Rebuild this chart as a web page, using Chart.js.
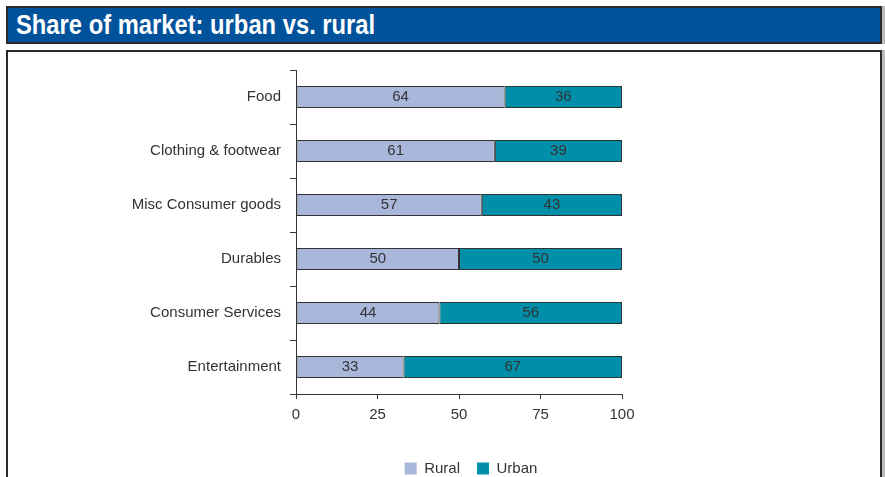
<!DOCTYPE html>
<html>
<head>
<meta charset="utf-8">
<script src="https://cdn.jsdelivr.net/npm/chart.js@4/dist/chart.umd.min.js"></script>
<style>
  html, body { margin: 0; padding: 0; background: #fff; }
  body { width: 885px; height: 477px; position: relative; overflow: hidden; }
  #title {
    position: absolute; left: 6px; top: 6px; width: 864px; height: 34px;
    background: #00529B; border: 2px solid #2a2a2a;
    box-shadow: 3px 0 0 #bbb;
    padding-left: 8px;
  }
  #title span {
    display: inline-block; transform: scaleX(0.88); transform-origin: left center;
    color: #fff; font-family: "Liberation Sans", Arial, sans-serif;
    font-weight: bold; font-size: 27px; line-height: 34px; white-space: nowrap;
  }
  #frame {
    position: absolute; left: 6px; top: 50px; width: 872px; height: 440px;
    border: 2px solid #2a2a2a; box-shadow: 3px 0 0 #bbb; background: #fff;
  }
  #wrap { position: absolute; left: 8px; top: 52px; width: 872px; height: 425px; }
</style>
</head>
<body>
<div id="title"><span>Share of market: urban vs. rural</span></div>
<div id="frame"></div>
<div id="wrap"><canvas id="c"></canvas></div>
<script>
const categories = ["Food", "Clothing & footwear", "Misc Consumer goods", "Durables", "Consumer Services", "Entertainment"];
const rural = [64, 61, 57, 50, 44, 33];
const urban = [36, 39, 43, 50, 56, 67];
const xTicks = [0, 25, 50, 75, 100];

const textColor = "#333";
const fontFamily = "'Liberation Sans', Arial, sans-serif";
const fontSize = 15;

// Writes each segment's value in the middle of its bar
const barValueLabels = {
  id: "barValueLabels",
  afterDatasetsDraw(chart) {
    const ctx = chart.ctx;
    ctx.save();
    ctx.fillStyle = textColor;
    ctx.font = fontSize + "px " + fontFamily;
    ctx.textAlign = "center";
    ctx.textBaseline = "middle";
    chart.data.datasets.forEach((ds, i) => {
      chart.getDatasetMeta(i).data.forEach((bar, j) => {
        const cx = (bar.x + bar.base) / 2;
        ctx.fillText(String(ds.data[j]), cx, bar.y);
      });
    });
    ctx.restore();
  }
};

// Centres the legend under the whole frame rather than the plot area
const legendPlacement = {
  id: "legendPlacement",
  afterLayout(chart) {
    const lg = chart.legend;
    const h = lg.bottom - lg.top;
    lg.left = 54;
    lg.right = chart.width;
    lg.top = 392;
    lg.bottom = lg.top + h;
  }
};

new Chart(document.getElementById("c"), {
  type: "bar",
  data: {
    labels: categories,
    datasets: [
      { label: "Rural", data: rural, backgroundColor: "#A9B7DB", borderColor: "#333", borderWidth: 1, borderSkipped: false, barPercentage: 0.41, categoryPercentage: 1 },
      { label: "Urban", data: urban, backgroundColor: "#008FA8", borderColor: "#333", borderWidth: 1, borderSkipped: false, barPercentage: 0.41, categoryPercentage: 1 }
    ]
  },
  options: {
    indexAxis: "y",
    responsive: true,
    maintainAspectRatio: false,
    animation: false,
    layout: { padding: { left: 0, right: 258, top: 9, bottom: 0 } },
    scales: {
      x: {
        stacked: true, min: 0, max: 100,
        afterBuildTicks: (s) => { s.ticks = xTicks.map(v => ({ value: v })); },
        afterFit: (s) => { s.height = 41; },
        border: { color: textColor, width: 1 },
        grid: { drawOnChartArea: false, color: textColor, tickLength: 5 },
        ticks: { color: textColor, font: { family: fontFamily, size: fontSize }, padding: 7, maxRotation: 0 }
      },
      y: {
        stacked: true,
        afterFit: (s) => { s.width = 288; },
        border: { color: textColor, width: 1 },
        grid: { drawOnChartArea: false, color: textColor, tickLength: 6, offset: true },
        ticks: { color: textColor, font: { family: fontFamily, size: fontSize }, padding: 9 }
      }
    },
    plugins: {
      legend: {
        position: "bottom",
        labels: {
          color: textColor, font: { family: fontFamily, size: fontSize },
          boxWidth: 12, boxHeight: 12, padding: 17,
          generateLabels: (chart) => chart.data.datasets.map((ds, i) => ({
            text: ds.label, fillStyle: ds.backgroundColor, strokeStyle: ds.backgroundColor,
            lineWidth: 0, datasetIndex: i, fontColor: textColor
          }))
        }
      },
      tooltip: { enabled: false }
    }
  },
  plugins: [barValueLabels, legendPlacement]
});
</script>
</body>
</html>
